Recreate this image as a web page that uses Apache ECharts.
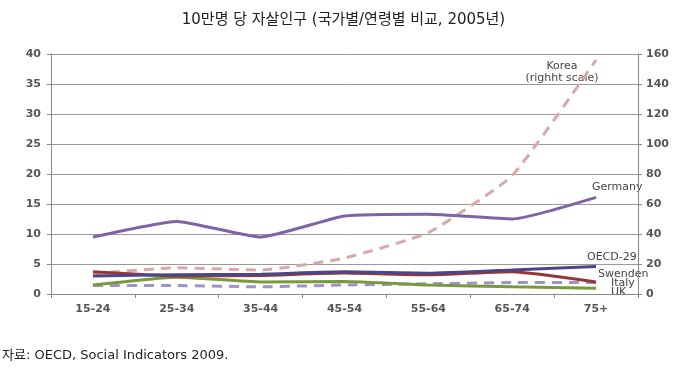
<!DOCTYPE html>
<html><head><meta charset="utf-8">
<script src="https://cdn.jsdelivr.net/npm/echarts@6/dist/echarts.min.js"></script>
<style>html,body{margin:0;padding:0;background:#fff}#c{width:687px;height:372px}</style>
</head><body><div id="c"></div>
<script>
const categories = ['15-24','25-34','35-44','45-54','55-64','65-74','75+'];
const leftTicks = [0,5,10,15,20,25,30,35,40];
const rightTicks = [0,20,40,60,80,100,120,140,160];
const germany = [9.5, 12.1, 9.5, 13.0, 13.3, 12.5, 16.1];
const oecd29 = [3.0, 3.2, 3.3, 3.7, 3.45, 4.0, 4.6];
const swenden = [3.7, 3.0, 3.1, 3.5, 3.2, 3.7, 2.0];
const italy = [1.4, 1.4, 1.2, 1.5, 1.7, 1.9, 1.9];
const uk = [1.5, 2.8, 2.0, 2.1, 1.5, 1.2, 0.95];
const korea = [13.5, 17.5, 16, 24, 41, 79, 156];

const chart = echarts.init(document.getElementById('c'));
const axisLabelStyle = {color:'#555', fontSize:11, fontWeight:'bold', fontFamily:'DejaVu Sans'};
const annot = {fill:'#444', fontSize:11, fontFamily:'DejaVu Sans'};
function line(name, data, color, dashed, yIdx, z){
  return {name, type:'line', data, yAxisIndex:yIdx||0, symbol:'none', smooth:0.15, z:z||2,
    lineStyle:{color, width:3, type: dashed ? [10,7] : 'solid'}};
}
chart.setOption({
  animation:false,
  title:{text:'10만명 당 자살인구 (국가별/연령별 비교, 2005년)', left:'center', top:8,
    textStyle:{fontSize:15, fontWeight:'normal', color:'#222', fontFamily:'DejaVu Sans, Noto Sans CJK KR'}},
  grid:{left:51, right:49, top:54, bottom:78},
  xAxis:{type:'category', data:categories, boundaryGap:true,
    axisLine:{lineStyle:{color:'#888'}}, axisTick:{show:true, lineStyle:{color:'#888'}, length:4},
    axisLabel:Object.assign({margin:10}, axisLabelStyle)},
  yAxis:[
    {type:'value', min:leftTicks[0], max:leftTicks[leftTicks.length-1], interval:5,
      axisLine:{show:true, lineStyle:{color:'#888'}}, axisTick:{show:true, length:4, lineStyle:{color:'#888'}},
      splitLine:{lineStyle:{color:'#9a9a9a'}},
      axisLabel:Object.assign({margin:10}, axisLabelStyle)},
    {type:'value', min:rightTicks[0], max:rightTicks[rightTicks.length-1], interval:20, position:'right',
      axisLine:{show:true, lineStyle:{color:'#888'}}, axisTick:{show:true, length:4, lineStyle:{color:'#888'}},
      splitLine:{show:false},
      axisLabel:Object.assign({margin:8}, axisLabelStyle)}
  ],
  series:[
    line('Korea', korea, '#d9a9a9', true, 1, 1),
    line('Germany', germany, '#7f63a8'),
    line('Italy', italy, '#a091c9', true),
    line('UK', uk, '#779a3c'),
    line('Swenden', swenden, '#953735'),
    line('OECD-29', oecd29, '#4c4688')
  ],
  graphic:[
    {type:'text', left:2, top:349, style:{text:'자료: OECD, Social Indicators 2009.', fill:'#222', fontSize:13, fontFamily:'DejaVu Sans, Noto Sans CJK KR'}},
    {type:'text', x:562, y:66, style:Object.assign({text:'Korea', align:'center', verticalAlign:'middle'}, annot)},
    {type:'text', x:562, y:78, style:Object.assign({text:'(righht scale)', align:'center', verticalAlign:'middle'}, annot)},
    {type:'text', x:592, y:187, style:Object.assign({text:'Germany', verticalAlign:'middle'}, annot)},
    {type:'text', x:587, y:257, style:Object.assign({text:'OECD-29', verticalAlign:'middle'}, annot)},
    {type:'text', x:598, y:274, style:Object.assign({text:'Swenden', verticalAlign:'middle'}, annot)},
    {type:'text', x:611, y:283, style:Object.assign({text:'Italy', verticalAlign:'middle'}, annot)},
    {type:'text', x:611, y:292, style:Object.assign({text:'UK', verticalAlign:'middle'}, annot)}
  ]
});
</script></body></html>
